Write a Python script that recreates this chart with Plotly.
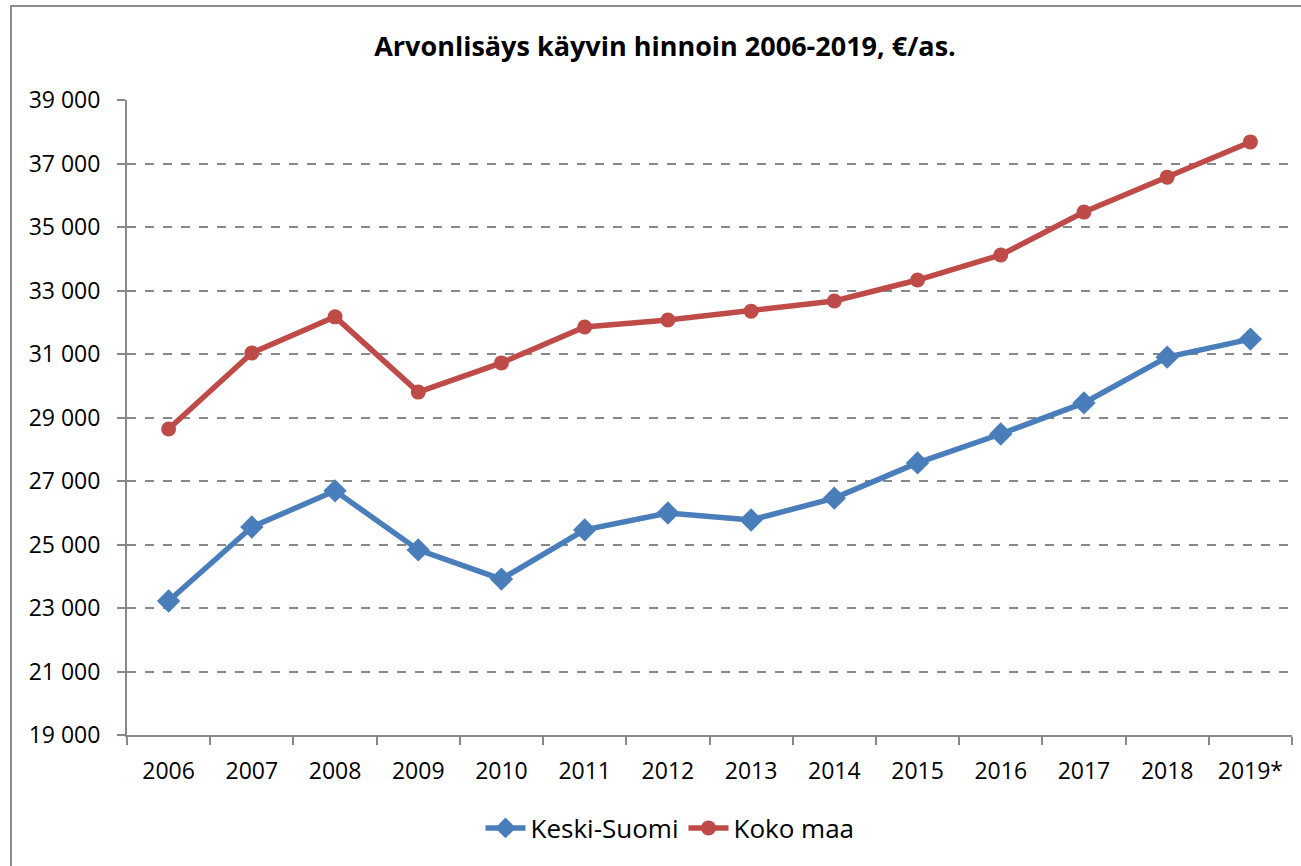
import plotly.graph_objects as go

years = ["2006", "2007", "2008", "2009", "2010", "2011", "2012", "2013",
         "2014", "2015", "2016", "2017", "2018", "2019*"]
keski_suomi = [23220, 25550, 26690, 24830, 23910, 25460, 25990, 25770,
               26460, 27570, 28480, 29460, 30900, 31470]
koko_maa = [28640, 31030, 32170, 29800, 30720, 31850, 32070, 32350,
            32670, 33330, 34120, 35470, 36570, 37680]

title_text = "Arvonlisäys käyvin hinnoin 2006-2019, €/as."
FONT = "Open Sans"

W, H = 1301, 866
L, R, T, B = 127, 1292, 100, 735
pw, ph = R - L, B - T

def px(x):
    return (x - L) / pw

def py(y):
    return (B - y) / ph

fig = go.Figure()
fig.add_trace(go.Scatter(
    x=years, y=keski_suomi, name="Keski-Suomi", mode="lines+markers",
    line=dict(color="#4A7EBB", width=5.5),
    marker=dict(symbol="diamond", size=18, color="#4A7EBB"),
))
fig.add_trace(go.Scatter(
    x=years, y=koko_maa, name="Koko maa", mode="lines+markers",
    line=dict(color="#BE4B48", width=5.5),
    marker=dict(symbol="circle", size=15, color="#BE4B48"),
))

fig.update_layout(
    width=W, height=H,
    margin=dict(l=L, r=W - R, t=T, b=H - B, autoexpand=False),
    paper_bgcolor="white", plot_bgcolor="white",
    separators=", ",
    font=dict(family=FONT, size=23, color="black"),
    title=dict(text="<b>" + title_text + "</b>", x=px(665), xref="paper",
               xanchor="center", y=1 - 47 / H, yanchor="middle",
               font=dict(family=FONT, size=27, color="black")),
    showlegend=True,
    legend=dict(orientation="h", x=px(670), xanchor="center",
                y=py(828), yanchor="middle",
                font=dict(family=FONT, size=26, color="black"),
                itemwidth=40, tracegroupgap=0),
    xaxis=dict(type="category", showgrid=False, showline=True,
               linecolor="#888888", linewidth=2, ticks="outside",
               tickson="boundaries", ticklen=8, tickcolor="#888888",
               tickwidth=2, tickfont=dict(size=23), ticklabelstandoff=14,
               range=[-0.5, len(years) - 0.5], fixedrange=True),
    yaxis=dict(range=[19000, 39000], dtick=2000, tick0=19000,
               tickformat=",d", showgrid=True, gridcolor="#888888",
               griddash="dash", gridwidth=2, showline=True,
               linecolor="#888888", linewidth=2, ticks="outside",
               ticklen=8, tickcolor="#888888", tickwidth=2,
               tickfont=dict(size=23), ticklabelstandoff=12,
               zeroline=False, fixedrange=True),
)

fig.add_shape(type="rect", xref="paper", yref="paper",
              x0=px(11), x1=px(1310), y0=py(880), y1=py(6),
              line=dict(color="#8C8C8C", width=2), fillcolor="rgba(0,0,0,0)",
              layer="below")

fig.write_html("out.html", config={"displayModeBar": False},
               post_script="document.body.style.margin='0';")
